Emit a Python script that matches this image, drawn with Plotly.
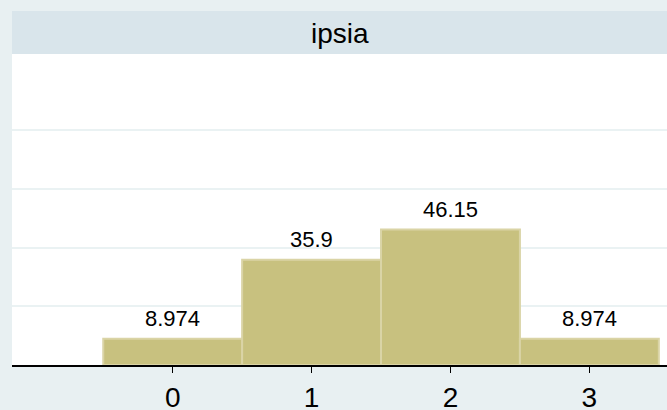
import plotly.graph_objects as go

categories = [0, 1, 2, 3]
percents = [8.974, 35.9, 46.15, 8.974]
labels = ["8.974", "35.9", "46.15", "8.974"]
tick_labels = ["0", "1", "2", "3"]
panel_title = "ipsia"

W, H = 667, 410
ml, mr, mt, mb = 12, 0, 54, 45
plot_h = H - mt - mb

fig = go.Figure()
fig.add_trace(go.Bar(
    x=categories, y=percents, width=1,
    marker=dict(color="#C8C17F", line=dict(color="#DAD4A6", width=2)),
    hoverinfo="skip",
))

for c, v, t in zip(categories, percents, labels):
    fig.add_annotation(x=c, y=v, text=t, showarrow=False, yanchor="bottom",
                       yshift=6, font=dict(family="Liberation Sans, Arial", size=22, color="#000000"))

# title strip
fig.add_shape(type="rect", xref="paper", yref="paper", x0=0, x1=1,
              y0=1, y1=1 + 43 / plot_h, fillcolor="#D9E5EB", line=dict(width=0), layer="below")
fig.add_annotation(xref="paper", yref="paper", x=0.5, y=1 + 21 / plot_h, text=panel_title,
                   showarrow=False, xanchor="center", yanchor="middle",
                   font=dict(family="Liberation Sans, Arial", size=28, color="#000000"))

fig.update_layout(
    width=W, height=H,
    margin=dict(l=ml, r=mr, t=mt, b=mb, pad=0, autoexpand=False),
    paper_bgcolor="#E8F0F2",
    plot_bgcolor="#FFFFFF",
    showlegend=False,
    bargap=0,
    xaxis=dict(range=[-1.157, 3.559], tickmode="array", tickvals=categories, ticktext=tick_labels,
               showgrid=False, zeroline=False, showline=True, linecolor="#000000", linewidth=1.5,
               ticks="outside", ticklen=6, tickwidth=1.5, tickcolor="#000000",
               ticklabelstandoff=1, automargin=False,
               tickfont=dict(family="Liberation Sans, Arial", size=28, color="#000000")),
    yaxis=dict(range=[0, 106], tickmode="array", tickvals=[20, 40, 60, 80],
               showticklabels=False, showgrid=True, gridcolor="#EAF2F3", gridwidth=2,
               zeroline=False, showline=False, ticks="", automargin=False),
)

fig.write_html("out.html", config={"displayModeBar": False, "staticPlot": True},
               post_script="document.body.style.margin='0px';document.body.style.overflow='hidden';")
